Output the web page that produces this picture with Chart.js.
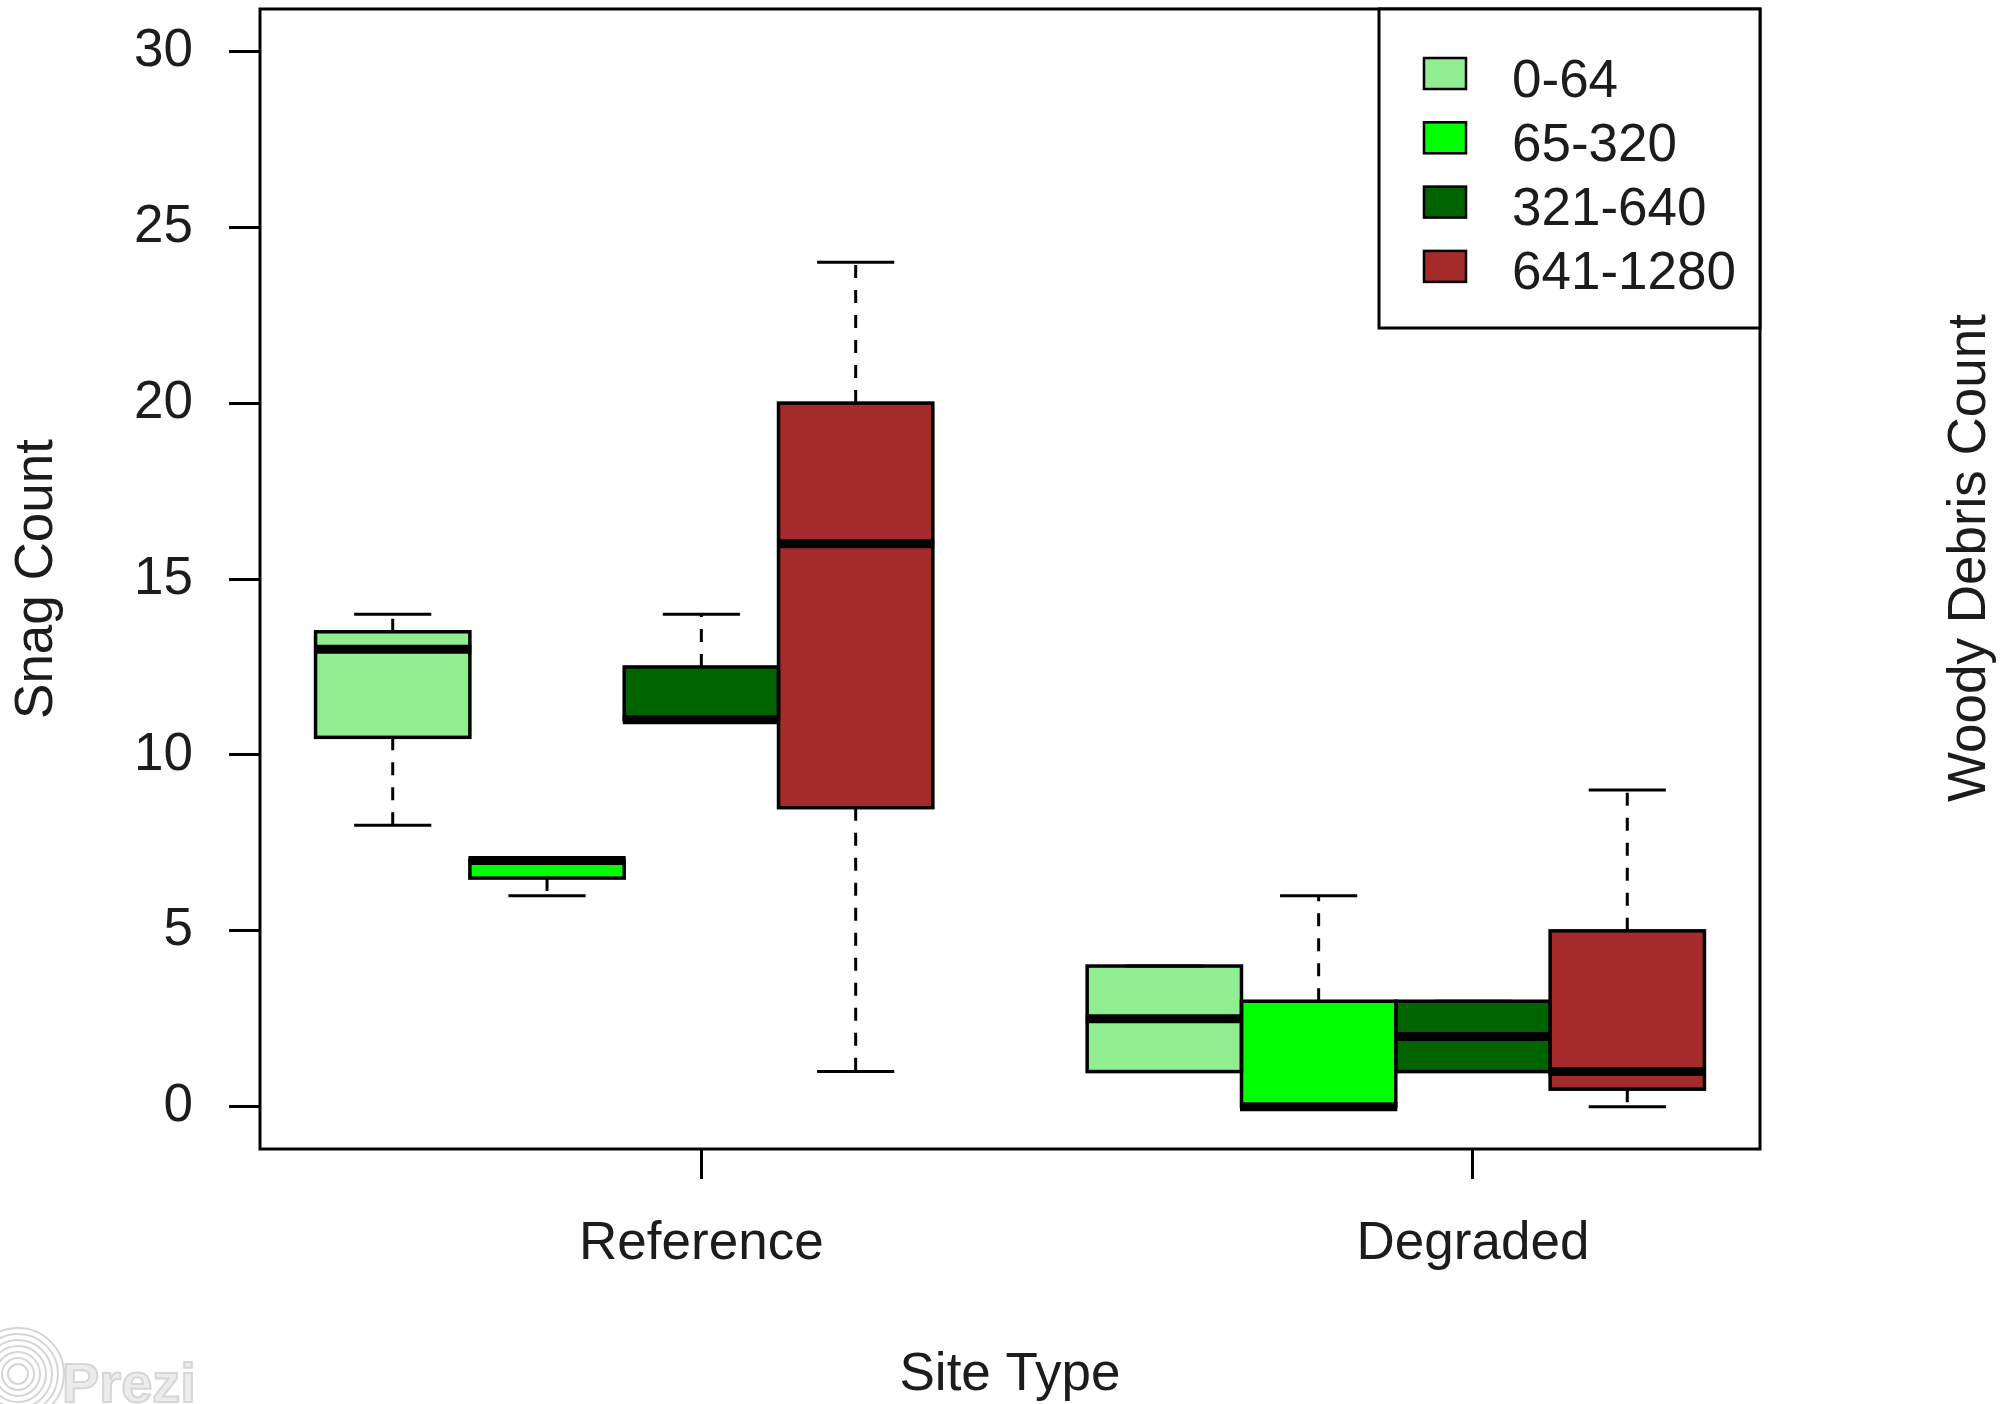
<!DOCTYPE html>
<html>
<head>
<meta charset="utf-8">
<title>Snag Count by Site Type</title>
<script src="https://cdn.jsdelivr.net/npm/chart.js@4.4.1/dist/chart.umd.min.js"></script>
<style>
  html, body { margin: 0; padding: 0; background: #fff; }
</style>
</head>
<body>
<canvas id="snagChart" width="2009" height="1404"></canvas>
<script>
// x axis groups and the debris size classes shown in the legend
const siteTypes = ['Reference', 'Degraded'];
const sizeClasses = ['0-64', '65-320', '321-640', '641-1280'];

// box plot statistics, one row per size class: [Reference, Degraded]
const lowerWhisker = [[8, 1], [6, 0], [11, 1], [1, 0]];
const lowerHinge   = [[10.5, 1], [6.5, 0], [11, 1], [8.5, 0.5]];
const medians      = [[13, 2.5], [7, 0], [11, 2], [16, 1]];
const upperHinge   = [[13.5, 4], [7, 3], [12.5, 3], [20, 5]];
const upperWhisker = [[14, 4], [7, 6], [14, 3], [24, 9]];

const yTicks = [0, 5, 10, 15, 20, 25, 30];

const boxColours = ['#90EE90', '#00FF00', '#006400', '#A52A2A'];
const FONT = "'Liberation Sans', Arial, sans-serif";
const TEXT = '#1c1c1c';

// R style layout: boxes at 1..4 and 6..9, range padded by 4%
const perGroup = sizeClasses.length + 1;
const boxAt = (s, c) => s * perGroup + c + 1;
const lastPos = siteTypes.length * perGroup - 1;
const xPad = 0.04 * lastPos;
const yPad = 0.04 * (yTicks[yTicks.length - 1] - yTicks[0]);

const datasets = sizeClasses.map((label, c) => ({
    label: label,
    data: siteTypes.map((s, si) => ({x: boxAt(si, c), y: [lowerHinge[c][si], upperHinge[c][si]]})),
    backgroundColor: boxColours[c],
    borderWidth: 0,
    grouped: false,
    categoryPercentage: 1,
    barPercentage: 1,
    order: sizeClasses.length - c
}));

const boxDetails = {
    id: 'boxDetails',
    afterDatasetsDraw(chart) {
        const ctx = chart.ctx;
        const yScale = chart.scales.y;
        ctx.save();
        ctx.strokeStyle = '#000';
        ctx.lineCap = 'butt';
        chart.data.datasets.forEach((ds, c) => {
            const meta = chart.getDatasetMeta(c);
            meta.data.forEach((bar, s) => {
                const p = bar.getProps(['x', 'y', 'base', 'width'], true);
                const left = p.x - p.width / 2;
                const right = p.x + p.width / 2;
                const top = Math.min(p.y, p.base);
                const bottom = Math.max(p.y, p.base);
                const hi = yScale.getPixelForValue(upperWhisker[c][s]);
                const lo = yScale.getPixelForValue(lowerWhisker[c][s]);

                // dashed whiskers
                ctx.lineWidth = 3;
                ctx.setLineDash([13, 12]);
                ctx.beginPath();
                ctx.moveTo(p.x, top);
                ctx.lineTo(p.x, hi);
                ctx.moveTo(p.x, bottom);
                ctx.lineTo(p.x, lo);
                ctx.stroke();

                // staples
                ctx.setLineDash([]);
                ctx.beginPath();
                ctx.moveTo(p.x - p.width / 4, hi);
                ctx.lineTo(p.x + p.width / 4, hi);
                ctx.moveTo(p.x - p.width / 4, lo);
                ctx.lineTo(p.x + p.width / 4, lo);
                ctx.stroke();

                // box outline
                ctx.lineWidth = 3.5;
                ctx.strokeRect(left, top, right - left, bottom - top);

                // median
                const m = yScale.getPixelForValue(medians[c][s]);
                ctx.lineWidth = 9;
                ctx.beginPath();
                ctx.moveTo(left - 1.5, m);
                ctx.lineTo(right + 1.5, m);
                ctx.stroke();
            });
        });
        ctx.restore();
    },
    afterDraw(chart) {
        const ctx = chart.ctx;
        const area = chart.chartArea;
        ctx.save();

        // plot frame
        ctx.strokeStyle = '#000';
        ctx.lineWidth = 3;
        ctx.strokeRect(area.left, area.top, area.right - area.left, area.bottom - area.top);

        // legend, top right inside the plot
        const lgRight = area.right, lgTop = area.top;
        const lgLeft = lgRight - 381, lgBottom = lgTop + 319;
        ctx.fillStyle = '#fff';
        ctx.fillRect(lgLeft, lgTop, lgRight - lgLeft, lgBottom - lgTop);
        ctx.strokeRect(lgLeft, lgTop, lgRight - lgLeft, lgBottom - lgTop);
        ctx.font = '53px ' + FONT;
        ctx.textAlign = 'left';
        ctx.textBaseline = 'alphabetic';
        chart.data.datasets.forEach((ds, i) => {
            const cy = lgTop + 64.5 + i * 64.3;
            ctx.fillStyle = ds.backgroundColor;
            ctx.fillRect(lgLeft + 45, cy - 15.5, 42, 31);
            ctx.lineWidth = 2.5;
            ctx.strokeRect(lgLeft + 45, cy - 15.5, 42, 31);
            ctx.fillStyle = TEXT;
            ctx.fillText(ds.label, lgLeft + 133, cy + 23);
        });

        // right hand axis label
        ctx.translate(1970, 558);
        ctx.rotate(-Math.PI / 2);
        ctx.textAlign = 'center';
        ctx.textBaseline = 'middle';
        ctx.fillStyle = TEXT;
        ctx.fillText('Woody Debris Count', 0, 0);
        ctx.setTransform(1, 0, 0, 1, 0, 0);

        // presentation watermark
        ctx.strokeStyle = '#d6d6d6';
        ctx.lineWidth = 2;
        for (let r = 10; r <= 46; r += 6) {
            ctx.beginPath();
            ctx.arc(18, 1374, r, 0, Math.PI * 2);
            ctx.stroke();
        }
        ctx.font = 'bold 56px ' + FONT;
        ctx.textAlign = 'left';
        ctx.textBaseline = 'alphabetic';
        ctx.fillStyle = '#ececec';
        ctx.fillText('Prezi', 62, 1402);
        ctx.lineWidth = 2;
        ctx.strokeText('Prezi', 62, 1402);
        ctx.restore();
    }
};

new Chart(document.getElementById('snagChart'), {
    type: 'bar',
    data: {datasets: datasets},
    plugins: [boxDetails],
    options: {
        responsive: false,
        devicePixelRatio: 1,
        animation: false,
        events: [],
        layout: {padding: {top: 9, right: 249, bottom: 0, left: 0}},
        plugins: {
            legend: {display: false},
            tooltip: {enabled: false}
        },
        scales: {
            x: {
                type: 'linear',
                offset: false,
                min: 0.5 - xPad,
                max: lastPos + 0.5 + xPad,
                afterBuildTicks: (scale) => {
                    scale.ticks = siteTypes.map((s, si) => ({value: boxAt(si, 2)}));
                },
                afterFit: (scale) => {
                    scale.height = 255;
                    scale.paddingLeft = 0;
                    scale.paddingRight = 0;
                },
                ticks: {
                    autoSkip: false,
                    maxRotation: 0,
                    padding: 34,
                    color: TEXT,
                    font: {family: FONT, size: 53},
                    callback: (value, index) => siteTypes[index]
                },
                grid: {offset: false, drawOnChartArea: false, tickLength: 30, tickWidth: 3, tickColor: '#000'},
                border: {display: false},
                title: {
                    display: true,
                    text: 'Site Type',
                    color: TEXT,
                    font: {family: FONT, size: 53, lineHeight: 1},
                    padding: {top: 0, bottom: 2}
                }
            },
            y: {
                min: yTicks[0] - yPad,
                max: yTicks[yTicks.length - 1] + yPad,
                afterBuildTicks: (scale) => {
                    scale.ticks = yTicks.map(v => ({value: v}));
                },
                afterFit: (scale) => {
                    scale.width = 260;
                    scale.paddingTop = 0;
                    scale.paddingBottom = 0;
                },
                ticks: {
                    padding: 36,
                    color: TEXT,
                    font: {family: FONT, size: 53}
                },
                grid: {drawOnChartArea: false, tickLength: 31, tickWidth: 3, tickColor: '#000'},
                border: {display: false},
                title: {
                    display: true,
                    text: 'Snag Count',
                    color: TEXT,
                    font: {family: FONT, size: 53, lineHeight: 1},
                    padding: {top: 11, bottom: 0}
                }
            }
        }
    }
});
</script>
</body>
</html>
